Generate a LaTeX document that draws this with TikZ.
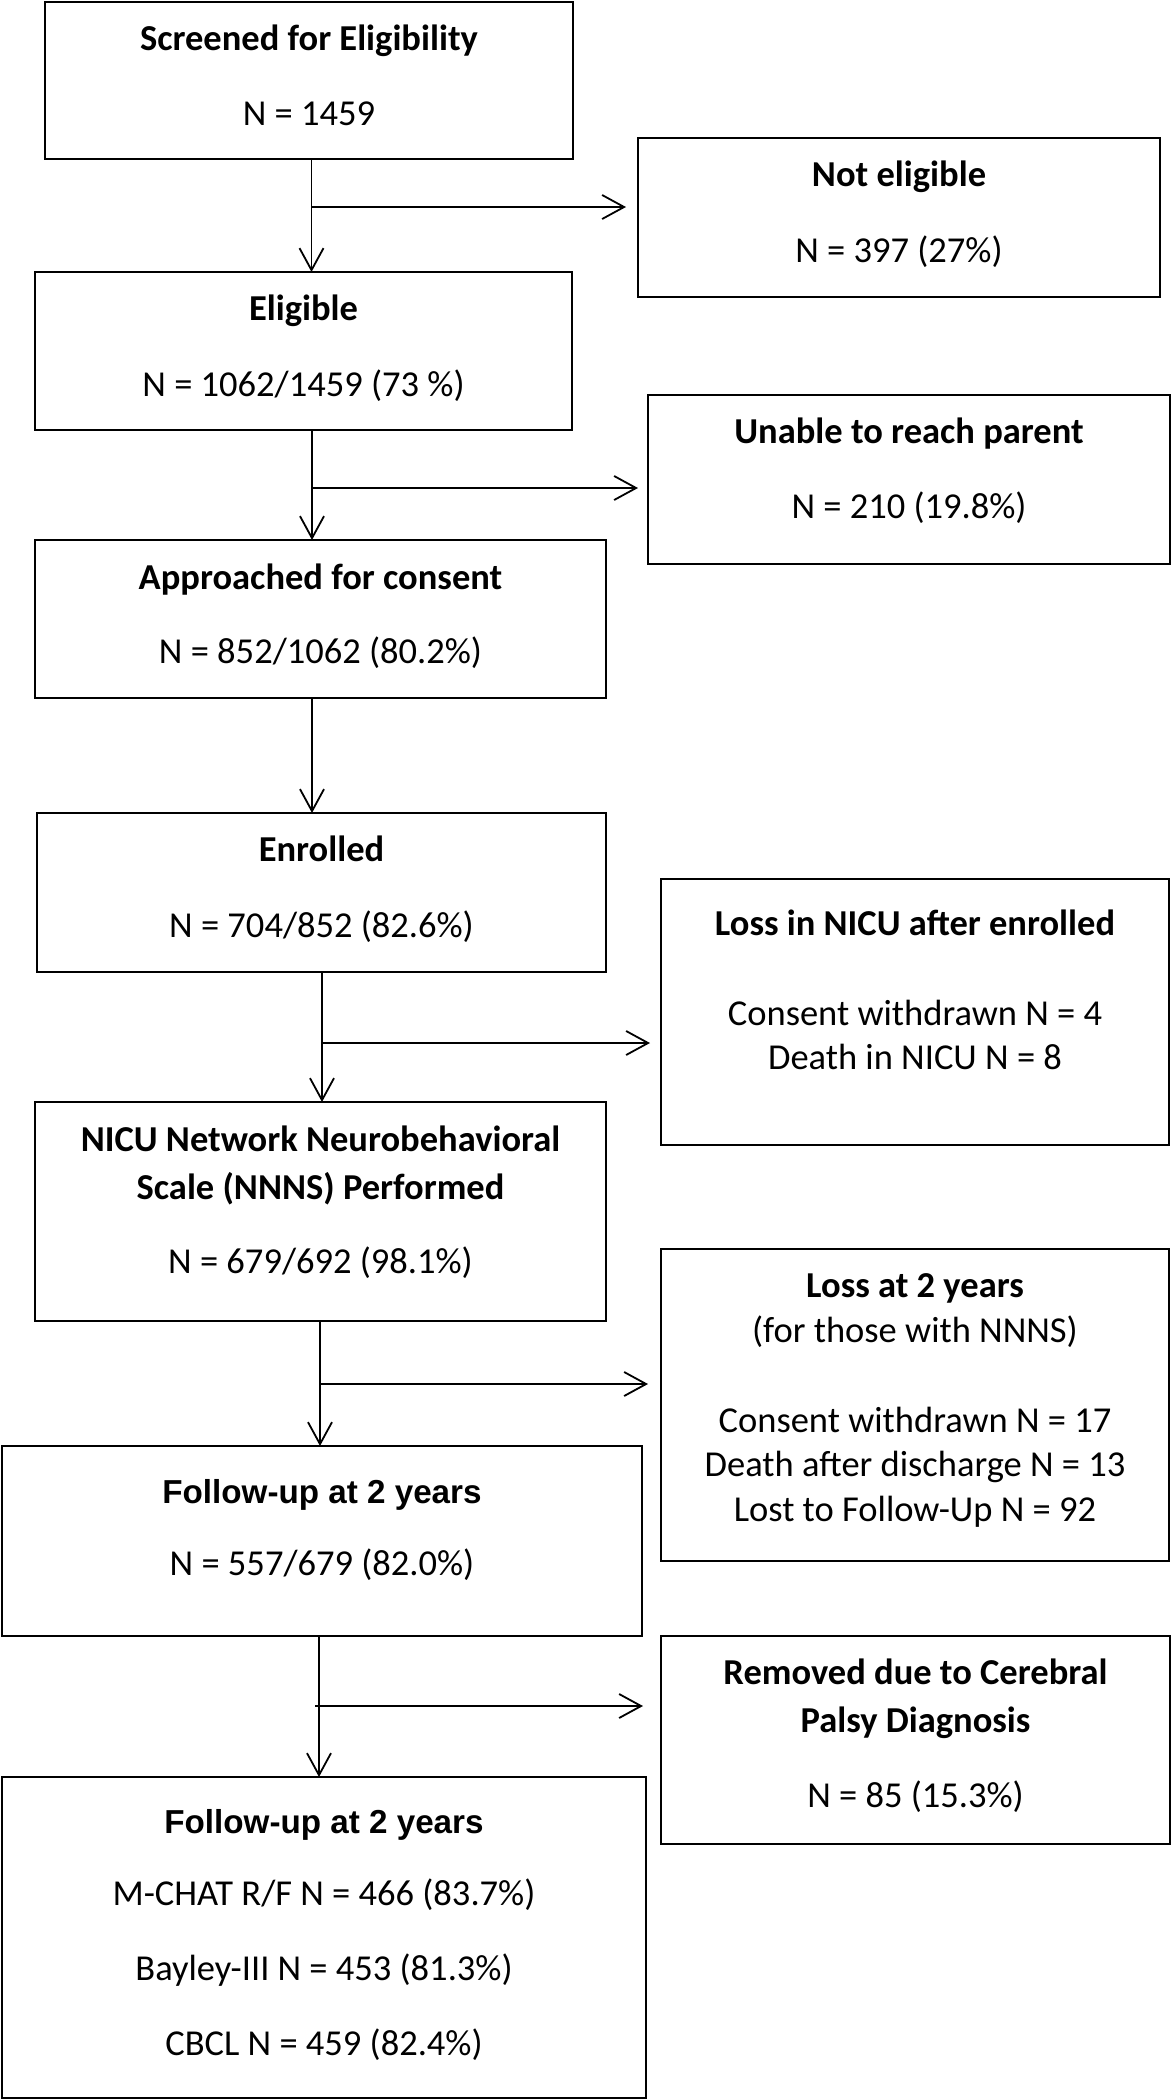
\documentclass[tikz,border=0pt]{standalone}
\usepackage{fontspec}
\setmainfont{Carlito}
\newfontfamily\arialfont{Liberation Sans}
\usetikzlibrary{arrows.meta,fit}
\newcommand\fsmain{\fontsize{18.25pt}{22pt}\selectfont}
\newcommand\fsarial{\fontsize{16.6pt}{20pt}\selectfont}
\begin{document}
\begin{tikzpicture}[x=0.5pt,y=-0.5pt,
  box/.style={draw, line width=1.3pt, inner sep=0pt, outer sep=0pt},
  ttl/.style={font=\fsmain\bfseries, anchor=base, inner sep=0pt},
  txt/.style={font=\fsmain, anchor=base, inner sep=0pt},
  fttl/.style={font=\arialfont\fsarial\bfseries, anchor=base, inner sep=0pt},
  arr/.style={line width=0.9pt, -{Straight Barb[length=11pt,width=12pt]}}]
\useasboundingbox (0,0) rectangle (1175,2100);
\fill[white] (0,0) rectangle (1175,2100);

% boxes
\node[box, fit={(45,2) (573,159)}] (s1) {};
\node[box, fit={(638,138) (1160,297)}] (ne) {};
\node[box, fit={(35,272) (572,430)}] (s2) {};
\node[box, fit={(648,395) (1170,564)}] (ur) {};
\node[box, fit={(35,540) (606,698)}] (s3) {};
\node[box, fit={(37,813) (606,972)}] (s4) {};
\node[box, fit={(661,879) (1169,1145)}] (ln) {};
\node[box, fit={(35,1102) (606,1321)}] (s5) {};
\node[box, fit={(661,1249) (1169,1561)}] (l2) {};
\node[box, fit={(2,1446) (642,1636)}] (s6) {};
\node[box, fit={(661,1636) (1170,1844)}] (rm) {};
\node[box, fit={(2,1777) (646,2098)}] (s7) {};

% texts
\node[ttl] (s1a) at (309,50) {Screened for Eligibility};
\node[txt] (s1b) at (309,125) {N = 1459};
\node[ttl] (nea) at (899,186) {Not eligible};
\node[txt] (neb) at (899,262) {N = 397 (27\%)};
\node[ttl] (s2a) at (303.5,320) {Eligible};
\node[txt] (s2b) at (303.5,396) {N = 1062/1459 (73 \%)};
\node[ttl] (ura) at (909,443) {Unable to reach parent};
\node[txt] (urb) at (909,518) {N = 210 (19.8\%)};
\node[ttl] (s3a) at (320.5,589) {Approached for consent};
\node[txt] (s3b) at (320.5,663) {N = 852/1062 (80.2\%)};
\node[ttl] (s4a) at (321.5,861) {Enrolled};
\node[txt] (s4b) at (321.5,937) {N = 704/852 (82.6\%)};
\node[ttl] (lna) at (915,935) {Loss in NICU after enrolled};
\node[txt] (lnb) at (915,1025) {Consent withdrawn N = 4};
\node[txt] (lnc) at (915,1069) {Death in NICU N = 8};
\node[ttl] (s5a) at (320.5,1151) {NICU Network Neurobehavioral};
\node[ttl] (s5b) at (320.5,1199) {Scale (NNNS) Performed};
\node[txt] (s5c) at (320.5,1273) {N = 679/692 (98.1\%)};
\node[ttl] (l2a) at (915,1297) {Loss at 2 years};
\node[txt] (l2b) at (915,1342) {(for those with NNNS)};
\node[txt] (l2c) at (915,1432) {Consent withdrawn N = 17};
\node[txt] (l2d) at (915,1476) {Death after discharge N = 13};
\node[txt] (l2e) at (915,1521) {Lost to Follow-Up N = 92};
\node[fttl] (s6a) at (322,1503) {Follow-up at 2 years};
\node[txt] (s6b) at (322,1575) {N = 557/679 (82.0\%)};
\node[ttl] (rma) at (915.5,1684) {Removed due to Cerebral};
\node[ttl] (rmb) at (915.5,1732) {Palsy Diagnosis};
\node[txt] (rmc) at (915.5,1807) {N = 85 (15.3\%)};
\node[fttl] (s7a) at (324,1833) {Follow-up at 2 years};
\node[txt] (s7b) at (324,1905) {M-CHAT R/F N = 466 (83.7\%)};
\node[txt] (s7c) at (324,1980) {Bayley-III N = 453 (81.3\%)};
\node[txt] (s7d) at (324,2055) {CBCL N = 459 (82.4\%)};

% trunk x positions and branch points
\coordinate (t1) at (311.5,0);
\coordinate (t2) at (312,0);
\coordinate (t3) at (312,0);
\coordinate (t4) at (322,0);
\coordinate (t5) at (320,0);
\coordinate (t6) at (319,0);
\coordinate (b1) at (311.5,207);
\coordinate (b2) at (312,488);
\coordinate (b4) at (322,1043);
\coordinate (b5) at (320,1384);
\coordinate (b6) at (315,1706);

% vertical connectors
\draw[arr] (s1.south -| t1) -- (s2.north -| t1);
\draw[arr] (s2.south -| t2) -- (s3.north -| t2);
\draw[arr] (s3.south -| t3) -- (s4.north -| t3);
\draw[arr] (s4.south -| t4) -- (s5.north -| t4);
\draw[arr] (s5.south -| t5) -- (s6.north -| t5);
\draw[arr] (s6.south -| t6) -- (s7.north -| t6);

% side branches
\draw[arr, shorten >=6pt] (b1) -- (b1 -| ne.west);
\draw[arr, shorten >=5pt] (b2) -- (b2 -| ur.west);
\draw[arr, shorten >=5.5pt] (b4) -- (b4 -| ln.west);
\draw[arr, shorten >=6.5pt] (b5) -- (b5 -| l2.west);
\draw[arr, shorten >=9pt] (b6) -- (b6 -| rm.west);
\end{tikzpicture}
\end{document}
